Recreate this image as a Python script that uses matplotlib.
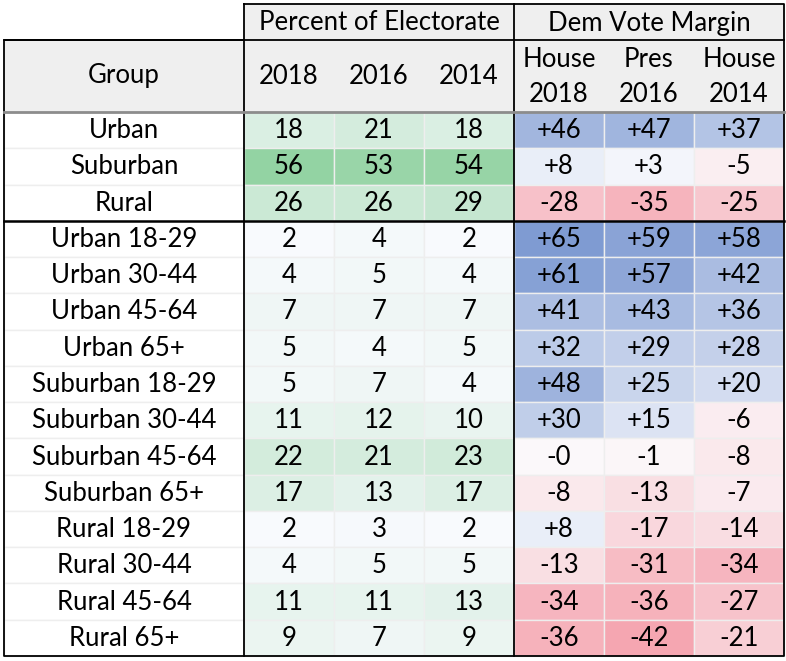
import matplotlib.pyplot as plt
import numpy as np
from matplotlib.colors import LinearSegmentedColormap, Normalize
from matplotlib.patches import Rectangle

plt.rcParams['font.family'] = ['Lato', 'DejaVu Sans']

groups = ['Urban', 'Suburban', 'Rural',
          'Urban 18-29', 'Urban 30-44', 'Urban 45-64', 'Urban 65+',
          'Suburban 18-29', 'Suburban 30-44', 'Suburban 45-64', 'Suburban 65+',
          'Rural 18-29', 'Rural 30-44', 'Rural 45-64', 'Rural 65+']
pct_2018 = [18, 56, 26, 2, 4, 7, 5, 5, 11, 22, 17, 2, 4, 11, 9]
pct_2016 = [21, 53, 26, 4, 5, 7, 4, 7, 12, 21, 13, 3, 5, 11, 7]
pct_2014 = [18, 54, 29, 2, 4, 7, 5, 4, 10, 23, 17, 2, 5, 13, 9]
house_2018 = [46, 8, -28, 65, 61, 41, 32, 48, 30, -0.2, -8, 8, -13, -34, -36]
pres_2016 = [47, 3, -35, 59, 57, 43, 29, 25, 15, -1, -13, -17, -31, -36, -42]
house_2014 = [37, -5, -25, 58, 42, 36, 28, 20, -6, -8, -7, -14, -34, -27, -21]

pct_cols = ['2018', '2016', '2014']
margin_cols = ['House\n2018', 'Pres\n2016', 'House\n2014']

green = LinearSegmentedColormap.from_list('g', ['#F8FAFD', '#93D3A3'])
gnorm = Normalize(min(pct_2018 + pct_2016 + pct_2014), 56)
blue = LinearSegmentedColormap.from_list('b', ['#F8F9FD', '#7F9BD2'])
red = LinearSegmentedColormap.from_list('r', ['#FBF8FA', '#F5A6B1'])
bnorm = Normalize(0, 65)
rnorm = Normalize(0, 42)


def margin_color(v):
    if v >= 0:
        return blue(bnorm(v))
    return red(rnorm(-v))


def fmt_margin(v):
    if v > 0:
        return '+%d' % round(v)
    return '-%d' % abs(round(v))


fig = plt.figure(figsize=(7.86, 6.61), dpi=100)
ax = fig.add_axes([0, 0, 1, 1])
ax.set_xlim(0, 786)
ax.set_ylim(661, 0)
ax.axis('off')

col_x = [4, 244, 334, 424, 514, 604, 694, 784]
top, h1, h2 = 4, 40, 112
row_h = (656 - h2) / len(groups)
fs = 18.5

# header backgrounds
ax.add_patch(Rectangle((244, top), 784 - 244, h1 - top, color='#EFEFEF', lw=0))
ax.add_patch(Rectangle((4, h1), 780, h2 - h1, color='#EFEFEF', lw=0))
ax.text((244 + 514) / 2, (top + h1) / 2 + 1, 'Percent of Electorate', ha='center', va='center', fontsize=fs)
ax.text((514 + 784) / 2, (top + h1) / 2 + 1, 'Dem Vote Margin', ha='center', va='center', fontsize=fs)
ax.text((4 + 244) / 2, (h1 + h2) / 2, 'Group', ha='center', va='center', fontsize=fs)
for j, lab in enumerate(pct_cols + margin_cols):
    ax.text((col_x[j + 1] + col_x[j + 2]) / 2, (h1 + h2) / 2 + 1, lab, ha='center', va='center',
            fontsize=fs, linespacing=1.5)

# body cells
pct = [pct_2018, pct_2016, pct_2014]
marg = [house_2018, pres_2016, house_2014]
for i, g in enumerate(groups):
    y0 = h2 + i * row_h
    yc = y0 + row_h / 2 + 0.5
    ax.add_patch(Rectangle((4, y0), 240, row_h, facecolor='white', edgecolor='#EEEEEE', lw=1))
    ax.text(124, yc, g, ha='center', va='center', fontsize=fs)
    for j in range(3):
        x0 = col_x[j + 1]
        v = pct[j][i]
        ax.add_patch(Rectangle((x0, y0), 90, row_h, facecolor=green(gnorm(v)), edgecolor='#EEEEEE', lw=1))
        ax.text(x0 + 45, yc, str(v), ha='center', va='center', fontsize=fs)
    for j in range(3):
        x0 = col_x[j + 4]
        v = marg[j][i]
        ax.add_patch(Rectangle((x0, y0), 90, row_h, facecolor=margin_color(v), edgecolor='#EEEEEE', lw=1))
        ax.text(x0 + 45, yc, fmt_margin(v), ha='center', va='center', fontsize=fs)

# borders
k = dict(color='black', lw=1.3)
ax.plot([244, 784, 784, 4, 4, 244, 244], [top, top, 656, 656, h1, h1, top], **k)
ax.plot([4, 784], [h1, h1], **k)
ax.plot([244, 244], [h1, 656], **k)
ax.plot([514, 514], [top, 656], **k)
ax.plot([4, 784], [h2, h2], color='#8C8C8C', lw=2)
ax.plot([4, 784], [h2 + 3 * row_h, h2 + 3 * row_h], color='black', lw=1.8)

fig.savefig('out.png', dpi=100)
